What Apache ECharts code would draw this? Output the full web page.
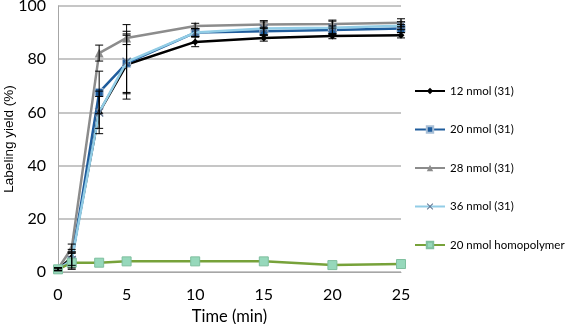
<!DOCTYPE html>
<html><head><meta charset="utf-8">
<script src="https://cdn.jsdelivr.net/npm/echarts@6/dist/echarts.min.js"></script>
<style>html,body{margin:0;padding:0;background:#fff}#c{width:567px;height:324px}</style>
</head><body><div id="c"></div>
<script>
const times = [0, 1, 3, 5, 10, 15, 20, 25];
const seriesNames = ['12 nmol (31)', '20 nmol (31)', '28 nmol (31)', '36 nmol (31)', '20 nmol homopolymer'];
const s12 = [1, 5.5, 60, 78, 86.5, 88, 88.7, 89];
const s20 = [1, 4, 67.5, 78.5, 90, 90.5, 91, 91.5];
const s28 = [1.2, 9, 82.3, 88, 92.5, 93, 93.2, 93.7];
const s36 = [1, 4.5, 60, 79, 90, 91.5, 91.8, 92.6];
const homo = [1, 3.5, 3.5, 4, 4, 4, 2.6, 3];
const e12 = [0.5, 3, 6, 11, 1.8, 1.2, 1, 1];
const e20 = [0.5, 3, 8, 11, 1.5, 1.5, 1.5, 1.5];
const e28 = [0.5, 1.5, 3, 2.5, 1, 1.5, 1.5, 1.5];
const e36 = [0.5, 3, 8, 14, 1.5, 2.5, 2.5, 1.5];
const yTicks = [0, 20, 40, 60, 80, 100];
const xTicks = [0, 5, 10, 15, 20, 25];

const pairs = v => times.map((t, i) => [t, v[i]]);
const errPairs = (v, e) => times.map((t, i) => [t, v[i], e[i]]);
const XPATH = 'path://M1,0 L5,4 L9,0 L10,1 L6,5 L10,9 L9,10 L5,6 L1,10 L0,9 L4,5 L0,1 Z';

function errSeries(v, e) {
  return {
    type: 'custom', silent: true, z: 5,
    data: errPairs(v, e),
    renderItem: (params, api) => {
      const x = api.value(0), y = api.value(1), d = api.value(2);
      const top = api.coord([x, y + d]), bot = api.coord([x, y - d]);
      const w = 4;
      const st = {stroke: '#000', lineWidth: 1};
      return {type: 'group', children: [
        {type: 'line', shape: {x1: top[0], y1: top[1], x2: bot[0], y2: bot[1]}, style: st},
        {type: 'line', shape: {x1: top[0] - w, y1: top[1], x2: top[0] + w, y2: top[1]}, style: st},
        {type: 'line', shape: {x1: bot[0] - w, y1: bot[1], x2: bot[0] + w, y2: bot[1]}, style: st}
      ]};
    }
  };
}

const chart = echarts.init(document.getElementById('c'), null, {renderer: 'canvas'});
chart.setOption({
  animation: false,
  textStyle: {fontFamily: 'Lato'},
  grid: {left: 58, right: 166, top: 6, bottom: 52, containLabel: false, outerBoundsMode: 'none'},
  legend: {
    data: seriesNames, orient: 'vertical', left: 409, top: 80,
    itemWidth: 30, itemHeight: 8, itemGap: 26.5,
    textStyle: {fontFamily: 'Lato', fontSize: 11.5, color: '#000'}
  },
  xAxis: {
    type: 'value', min: 0, max: 25, interval: 5,
    name: 'Time (min)', nameLocation: 'middle', nameGap: 36, nameMoveOverlap: false,
    nameTextStyle: {fontFamily: 'Lato', fontSize: 16.5, color: '#000'},
    axisLine: {show: true, lineStyle: {color: '#a6a6a6', width: 1}},
    axisTick: {show: false},
    axisLabel: {fontFamily: 'Lato', fontSize: 16, color: '#000', margin: 15,
      formatter: v => xTicks.includes(v) ? String(v) : ''},
    splitLine: {show: false}
  },
  yAxis: {
    type: 'value', min: 0, max: 100, interval: 20,
    name: 'Labeling yield (%)', nameLocation: 'middle', nameGap: 42, nameMoveOverlap: false,
    nameTextStyle: {fontFamily: 'Liberation Sans', fontSize: 13.5, color: '#000'},
    axisLine: {show: true, lineStyle: {color: '#a6a6a6', width: 1}},
    axisTick: {show: false},
    axisLabel: {fontFamily: 'Lato', fontSize: 16, color: '#000', margin: 12,
      formatter: v => yTicks.includes(v) ? String(v) : ''},
    splitLine: {show: true, lineStyle: {color: '#b3b3b3', width: 1.5}}
  },
  series: [
    {name: seriesNames[0], type: 'line', data: pairs(s12), z: 2,
      lineStyle: {color: '#000', width: 2.5}, symbol: 'diamond', symbolSize: 7,
      itemStyle: {color: '#000'}},
    {name: seriesNames[1], type: 'line', data: pairs(s20), z: 3,
      lineStyle: {color: '#1f5c9c', width: 2.5}, symbol: 'rect', symbolSize: 8,
      itemStyle: {color: '#1f5c9c', borderColor: '#a8bfd6', borderWidth: 1}},
    {name: seriesNames[2], type: 'line', data: pairs(s28), z: 2,
      lineStyle: {color: '#8c8c8c', width: 2.5}, symbol: 'triangle', symbolSize: 9,
      itemStyle: {color: '#8c8c8c'}},
    {name: seriesNames[3], type: 'line', data: pairs(s36), z: 4,
      lineStyle: {color: '#92cde6', width: 2.5}, symbol: XPATH, symbolSize: 9,
      itemStyle: {color: '#5f7390'}},
    {name: seriesNames[4], type: 'line', data: pairs(homo), z: 4,
      lineStyle: {color: '#77a23a', width: 2.5}, symbol: 'rect', symbolSize: 9,
      itemStyle: {color: '#96d8bb', borderColor: '#7fbf9f', borderWidth: 1}},
    errSeries(s12, e12),
    errSeries(s20, e20),
    errSeries(s28, e28),
    errSeries(s36, e36)
  ]
});
</script></body></html>
